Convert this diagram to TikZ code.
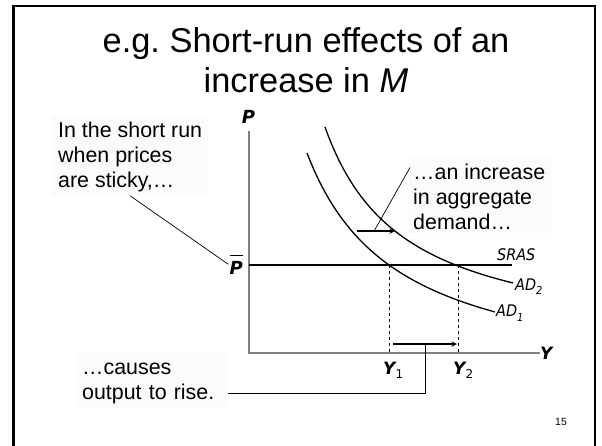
\documentclass[tikz,border=0pt]{standalone}
\usepackage{fontspec}
\setmainfont[Ligatures=NoCommon]{Liberation Sans}
\newfontfamily\lblfont{DejaVu Sans}
\newfontfamily\curvefont[ItalicFont={DejaVu Sans Condensed Oblique}]{DejaVu Sans Condensed}
\usetikzlibrary{calc}
\definecolor{axisgray}{gray}{0.5}
\definecolor{boxfill}{gray}{0.985}
\frenchspacing
% labels of the axes and of the curves
\newcommand{\axlab}[2]{{\lblfont\fontsize{17}{17}\selectfont\bfseries\itshape #1}{\lblfont\fontsize{12}{12}\selectfont\raisebox{-4pt}{#2}}}
\newcommand{\curvelab}[2]{{\curvefont\itshape\fontsize{16}{16}\selectfont #1\raisebox{-4.5pt}{\fontsize{11}{11}\selectfont #2}}}
\newcommand{\barred}[1]{\vbox{\hrule height 1.2pt\kern 5pt\hbox{#1}}}

\begin{document}
\begin{tikzpicture}[x=1pt, y=-1pt, >=stealth,
    axis/.style={axisgray, line width=1.5pt},
    curve/.style={line width=1.3pt},
    conn/.style={line width=0.7pt},
    callout/.style={fill=boxfill, anchor=north west, inner xsep=6pt, inner ysep=4pt, align=left, font=\fontsize{21.4}{25}\selectfont},
    axl/.style={inner sep=0pt, anchor=base west}]
  \useasboundingbox (0,0) rectangle (602,445);
  \clip (0,0) rectangle (602,445);
  % slide frame
  \draw[line width=2.8pt] (13.5,6) rectangle (595,480);

  % title
  \node[anchor=north, inner sep=0pt, align=center, font=\fontsize{34.4}{40}\selectfont] (title) at (306,24) {\strut e.g. Short-run effects of an\\ increase in \textit{M}};

  % axes
  \coordinate (O) at (249,353);
  \coordinate (Ptop) at (249,131);
  \coordinate (Yend) at (540,353);
  \draw[axis] (Ptop) -- (O) -- (Yend);
  \node[anchor=base, inner sep=0pt] (Plab) at (248.5,123) {\lblfont\fontsize{18}{18}\selectfont\bfseries\itshape P};
  \node[axl] (Ylab) at (540,359) {\axlab{Y}{}};

  % SRAS at the sticky price level
  \coordinate (sras0) at (249,265);
  \coordinate (sras1) at (512,265);
  \draw[line width=1.4pt] (sras0) -- (sras1);
  \node[anchor=base east, inner sep=1pt] (Pbar) at (244,274) {\lblfont\fontsize{18}{18}\selectfont\bfseries\itshape\barred{P}};
  \node[axl] (srasl) at (497,260) {\curvelab{SRAS}{}};

  % AD curves
  \draw[curve] plot[domain=307:495, samples=60, smooth] (\x, {388.4-212.81/(\x-216.6)*100});
  \draw[curve] plot[domain=325:513, samples=60, smooth] (\x, {348.5-174.96/(\x-246)*100});
  \node[axl] (ad1l) at (496,316.5) {\curvelab{AD}{1}};
  \node[axl] (ad2l) at (515,290) {\curvelab{AD}{2}};

  % output levels
  \coordinate (e1) at (389,265);
  \coordinate (e2) at (458,265);
  \draw[dashed, line width=0.6pt] (e1) -- (e1 |- O);
  \draw[dashed, line width=0.6pt] (e2) -- (e2 |- O);
  \node[axl] (Y1lab) at (383,374) {\axlab{Y}{1}};
  \node[axl] (Y2lab) at (453,374) {\axlab{Y}{2}};

  % shifts
  \coordinate (adL) at (357,231);
  \coordinate (adR) at (395,231);
  \draw[->, line width=1.4pt] (adL) -- (adR);
  \coordinate (outL) at (393,344);
  \coordinate (outR) at (457,344);
  \draw[->, line width=1.4pt] (outL) -- (outR);

  % callouts
  \node[callout] (sticky) at (52,115.5) {\strut In the short run\\ when prices\\ are sticky,…};
  \node[callout] (demand) at (407,157.5) {\strut …an increase\\ in aggregate\\ demand…};
  \node[callout, text width=140pt] (rise) at (76,352.5) {\strut …causes\\ output to rise.};
  \draw[conn] (sticky.south) -- (Pbar.west);
  \draw[conn] ($(demand.north west)+(3,10)$) -- ($(adL)!0.45!(adR)$);
  \draw[conn] ($(rise.south east)+(0,-14)$) -| ($(outL)!0.5!(outR)$);

  % page number
  \node[font=\fontsize{10.5}{12}\selectfont] (pagenum) at (561,422) {15};
\end{tikzpicture}
\end{document}
